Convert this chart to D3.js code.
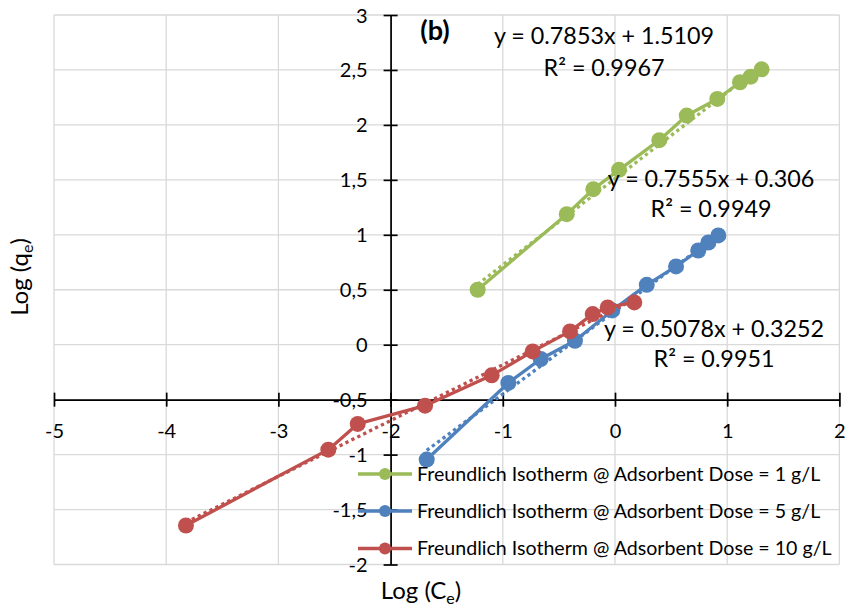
<!DOCTYPE html>
<html><head><meta charset="utf-8">
<script src="https://cdn.jsdelivr.net/npm/d3@7"></script>
<style>body{margin:0;background:#fff} text{font-family:Lato, "Open Sans", sans-serif; fill:#000}</style>
</head><body>
<svg id="c" width="847" height="611"></svg>
<script>
// ---------- data ----------
const seriesNames = [
  "Freundlich Isotherm @ Adsorbent Dose = 1 g/L",
  "Freundlich Isotherm @ Adsorbent Dose = 5 g/L",
  "Freundlich Isotherm @ Adsorbent Dose = 10 g/L"
];
const seriesColors = ["#9BBB59", "#4F81BD", "#C0504D"];

const logCe1 = [-1.224, -0.430, -0.193, 0.036, 0.395, 0.639, 0.912, 1.114, 1.209, 1.307];
const logQe1 = [0.50, 1.188, 1.415, 1.591, 1.861, 2.085, 2.236, 2.388, 2.439, 2.506];

const logCe5 = [-1.678, -0.951, -0.662, -0.357, -0.024, 0.283, 0.544, 0.742, 0.832, 0.921];
const logQe5 = [-1.045, -0.348, -0.130, 0.036, 0.312, 0.545, 0.712, 0.857, 0.930, 0.994];

const logCe10 = [-3.824, -2.555, -2.293, -1.693, -1.099, -0.734, -0.401, -0.199, -0.065, 0.172];
const logQe10 = [-1.645, -0.955, -0.721, -0.555, -0.279, -0.061, 0.121, 0.279, 0.339, 0.385];

const slopes = [0.7853, 0.7555, 0.5078];
const intercepts = [1.5109, 0.306, 0.3252];
const eqLabels = ["y = 0.7853x + 1.5109", "y = 0.7555x + 0.306", "y = 0.5078x + 0.3252"];
const r2Labels = ["R² = 0.9967", "R² = 0.9949", "R² = 0.9951"];

const xTicks = [-5, -4, -3, -2, -1, 0, 1, 2];
const yTicks = [-2, -1.5, -1, -0.5, 0, 0.5, 1, 1.5, 2, 2.5, 3];
const panelLabel = "(b)";

// ---------- chart ----------
const svg = d3.select("#c");
const x = d3.scaleLinear().domain([-5, 2]).range([54, 839.4]);
const y = d3.scaleLinear().domain([-2, 3]).range([564.5, 15]);
const fmt = d => String(d).replace(".", ",");

// gridlines
const grid = svg.append("g").attr("stroke", "#d9d9d9").attr("stroke-width", 1.3);
grid.selectAll("line.v").data(xTicks).join("line")
  .attr("x1", d => x(d)).attr("x2", d => x(d)).attr("y1", y(3)).attr("y2", y(-2));
grid.selectAll("line.h").data(yTicks).join("line")
  .attr("y1", d => y(d)).attr("y2", d => y(d)).attr("x1", x(-5)).attr("x2", x(2));

// x axis at y = -0.5
const xAxisG = svg.append("g").attr("transform", `translate(0,${y(-0.5)})`)
  .call(d3.axisBottom(x).tickValues(xTicks).tickFormat(fmt).tickSize(0).tickSizeOuter(0));
xAxisG.select(".domain").attr("stroke", "#000").attr("stroke-width", 1.7);
xAxisG.selectAll(".tick line").attr("y1", -7).attr("y2", 7).attr("stroke", "#000").attr("stroke-width", 1.7);
xAxisG.selectAll(".tick text").attr("y", 38).attr("dy", 0).style("font-size", "20px").attr("fill", "#000");

// y axis at x = -2
const yAxisG = svg.append("g").attr("transform", `translate(${x(-2)},0)`)
  .call(d3.axisLeft(y).tickValues(yTicks).tickFormat(fmt).tickSize(0).tickSizeOuter(0));
yAxisG.select(".domain").attr("stroke", "#000").attr("stroke-width", 1.7);
yAxisG.selectAll(".tick line").attr("x1", -7).attr("x2", 7).attr("stroke", "#000").attr("stroke-width", 1.7);
yAxisG.selectAll(".tick text").attr("x", -23).attr("dy", "0.35em").style("font-size", "20px").attr("fill", "#000");

// series
const series = [
  {xs: logCe1, ys: logQe1},
  {xs: logCe5, ys: logQe5},
  {xs: logCe10, ys: logQe10}
];
const line = d3.line().x(d => x(d[0])).y(d => y(d[1]));
series.forEach((s, i) => {
  const pts = s.xs.map((v, j) => [v, s.ys[j]]);
  const g = svg.append("g");
  g.append("path").datum(pts).attr("d", line).attr("fill", "none")
    .attr("stroke", seriesColors[i]).attr("stroke-width", 3.3).attr("stroke-linejoin", "round");
  const [x0, x1] = d3.extent(s.xs);
  const tl = [[x0, slopes[i] * x0 + intercepts[i]], [x1, slopes[i] * x1 + intercepts[i]]];
  g.append("path").datum(tl).attr("d", line).attr("fill", "none")
    .attr("stroke", seriesColors[i]).attr("stroke-width", 3.3).attr("stroke-dasharray", "3.3 3.3");
  g.selectAll("circle").data(pts).join("circle")
    .attr("cx", d => x(d[0])).attr("cy", d => y(d[1])).attr("r", 8)
    .attr("fill", seriesColors[i]);
});

// equation labels
const eqPos = [[604, 44, 76], [711, 187, 217], [714, 337, 367]];
eqLabels.forEach((t, i) => {
  svg.append("text").attr("x", eqPos[i][0]).attr("y", eqPos[i][1]).attr("text-anchor", "middle")
    .style("font-size", "23.3px").text(t);
  svg.append("text").attr("x", eqPos[i][0]).attr("y", eqPos[i][2]).attr("text-anchor", "middle")
    .style("font-size", "23.3px").text(r2Labels[i]);
});

// panel label
svg.append("text").attr("x", 435).attr("y", 40).attr("text-anchor", "middle")
  .style("font-size", "27px").style("font-weight", "bold").text(panelLabel);

// legend
const legY = [474, 511, 548.5];
seriesNames.forEach((n, i) => {
  const g = svg.append("g").attr("transform", `translate(0,${legY[i]})`);
  g.append("line").attr("x1", 358).attr("x2", 412).attr("stroke", seriesColors[i]).attr("stroke-width", 3.5);
  g.append("circle").attr("cx", 385).attr("r", 6).attr("fill", seriesColors[i]);
  g.append("text").attr("x", 417).attr("dy", "0.35em").style("font-size", "19.6px").text(n);
});

// axis titles
const xt = svg.append("text").attr("x", 421).attr("y", 599).attr("text-anchor", "middle").style("font-size", "24px");
xt.append("tspan").text("Log (C");
xt.append("tspan").attr("dy", 5).style("font-size", "16px").text("e");
xt.append("tspan").attr("dy", -5).text(")");

const yt = svg.append("text").attr("transform", "translate(28,277) rotate(-90)").attr("text-anchor", "middle").style("font-size", "24px");
yt.append("tspan").text("Log (q");
yt.append("tspan").attr("dy", 5).style("font-size", "16px").text("e");
yt.append("tspan").attr("dy", -5).text(")");
</script>
</body></html>
